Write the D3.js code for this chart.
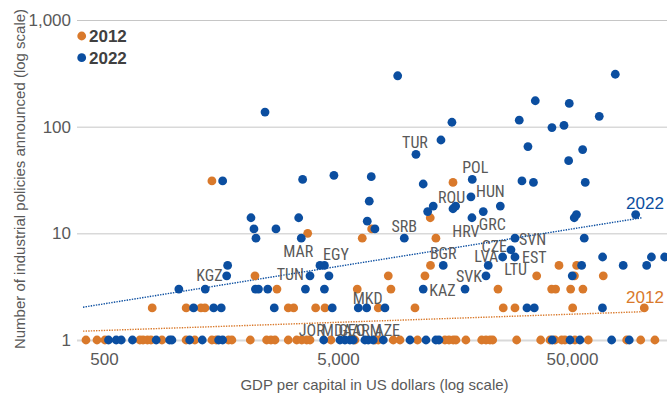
<!DOCTYPE html>
<html>
<head>
<meta charset="utf-8">
<script src="https://cdn.jsdelivr.net/npm/d3@7"></script>
<style>
  html, body { margin: 0; padding: 0; background: #fff; }
  svg { display: block; }
</style>
</head>
<body>
<svg id="chart" width="667" height="394"></svg>
<script>
// GDP per capita (US$) and number of industrial policies announced, per country
const series2012 = [
  [419,1],[467,1],[505,1],[712,1],[735,1],[767,1],[794,1],[885,1],[1122,1],[1223,1],
  [1447,1],[1510,1],[1703,1],[1761,1],[2111,1],[2478,1],[2586,1],[2691,1],[3067,1],[3332,1],
  [3502,1],[3676,1],[3798,1],[4667,1],[5910,1],[7195,1],[7434,1],[8615,1],[9208,1],[10940,1],
  [14330,1],[14910,1],[15550,1],[15970,1],[17610,1],[20570,1],[21460,1],[22320,1],[22920,1],[29020,1],
  [36760,1],[40280,1],[42300,1],[45200,1],[46670,1],[51500,1],[58700,1],[85670,1],[98350,1],[113100,1],
  [804,2],[1123,2],[1299,2],[1351,2],[3067,2],[3234,2],[4015,2],[4400,2],[7434,2],[10670,2],
  [25430,2],[28540,2],[50350,2],[101860,2],
  [2744,3],[6046,3],[8424,3],[24150,3],[40950,3],[42580,3],[49370,3],[55700,3],
  [2210,4],[8205,4],[11770,4],[35340,4],[51250,4],[68050,4],
  [12430,5],[44010,5],[52350,5],
  [6352,9],[13110,9],[3713,10],[6968,11],[12400,14],[15510,30],[1447,31]
];

const series2022 = [
  [523,1],[564,1],[593,1],[662,1],[836,1],[954,1],[976,1],[1162,1],[1316,1],[1546,1],
  [1608,1],[4346,1],[5100,1],[5355,1],[5625,1],[5815,1],[6520,1],[6740,1],[7075,1],[7812,1],
  [10160,1],[11890,1],[13110,1],[13510,1],[41190,1],[49050,1],[54100,1],[73900,1],[87890,1],
  [1208,2],[1472,2],[1586,2],[2672,2],[4728,2],[6107,2],[6635,2],[7940,2],[32120,2],[34520,2],[67500,2],
  [1045,3],[1355,3],[2220,3],[2288,3],[2506,3],[3631,3],[4377,3],[11570,3],[17460,3],
  [1673,4],[3798,4],[4577,4],[21460,4],[50150,4],
  [1689,5],[4190,5],[4377,5],[14090,5],[21940,5],[55000,5],[82800,5],[104300,5],
  [25280,6],[28540,6],[67600,6],[109300,6],[124500,6],
  [27440,7],
  [2232,9],[3486,9],[9605,9],[28540,9],[56430,9],
  [2188,11],[2717,11],[7195,11],
  [6672,13],
  [2125,14],[3398,14],[18690,14],[51150,14],
  [52270,15],[93600,15],
  [12090,16],[20890,16],
  [15510,17],
  [12770,18],[15920,18],[24710,18],
  [6805,20],[18510,22],[11570,29],
  [34230,30],[57000,30],
  [1608,31],[30570,31],
  [3533,32],[18750,32],
  [6940,34],[4806,35],[48400,48],[10775,55],[55560,61],[32430,65],[13780,75],
  [41070,98],[46230,103],[15350,110],[29770,115],[65420,125],[2440,137],
  [48700,165],[34860,175],[9000,300],[76600,310]
];

// Log-log trend lines (end points of each fitted line)
const trend2012 = [[407, 1.21], [99600, 1.84]];
const trend2022 = [[407, 2.03], [99600, 14.0]];

// Labelled countries (2022 values)
const countryLabels = [
  ["TUR",10775,55],["POL",18750,32],["HUN",18510,22],["ROU",15920,18],["HRV",18690,14],
  ["GRC",20890,16],["SRB",9605,9],["CZE",27440,7],["SVN",28540,9],["LVA",21940,5],
  ["EST",28540,6],["LTU",25280,6],["BGR",14090,5],["KAZ",11570,3],["SVK",21460,4],
  ["MKD",6635,2],["KGZ",1673,4],["MAR",3486,9],["EGY",4190,5],["TUN",3798,4],
  ["JOR",4346,1],["MDA",5100,1],["GEO",5625,1],["ARM",6520,1],["AZE",7075,1]
];

const xTicks = [500, 5000, 50000];
const yTicks = [1, 10, 100, 1000];
const years = ["2012", "2022"];

// Label placement: [text-anchor, dx, dy] relative to the labelled point
const labelPlacement = {
  TUR:["middle",-1,-6], POL:["middle",3,-6], HUN:["start",5,0], ROU:["middle",-4,-3],
  HRV:["middle",-6,19], GRC:["middle",9,18], SRB:["middle",0,-6], CZE:["end",-4,2],
  SVN:["start",4,7], LVA:["middle",-2,-3], EST:["start",7,6], LTU:["middle",13,18],
  BGR:["middle",0,-6], KAZ:["start",6,7], SVK:["end",-4,6], MKD:["middle",1,-4],
  KGZ:["end",-4,5], MAR:["middle",-3,19], EGY:["start",3,-5], TUN:["end",-6,4],
  JOR:["end",1,-4], MDA:["middle",-3,-4], GEO:["middle",2,-4], ARM:["middle",2,-4], AZE:["middle",14,-4]
};

const colors = { "2012": "#D9792B", "2022": "#0B4EA0" };
const textGray = "#595959";
const sans = "'Liberation Sans', Arial, sans-serif";
const narrow = "'Liberation Sans Narrow', 'Arial Narrow', 'Roboto Condensed', sans-serif";

const svg = d3.select("#chart");
const plotLeft = 77, plotRight = 667, plotTop = 20, plotBottom = 340;

const x = d3.scaleLog().domain([383.6, 127400]).range([plotLeft, plotRight]);
const y = d3.scaleLog().domain([1, 1000]).range([plotBottom, plotTop]);

// Horizontal gridlines + y tick labels
const yAxis = d3.axisLeft(y)
  .tickValues(yTicks)
  .tickSize(-(plotRight - plotLeft))
  .tickPadding(6)
  .tickFormat(d3.format(","));
const gy = svg.append("g").attr("transform", `translate(${plotLeft},0)`).call(yAxis);
gy.select(".domain").remove();
gy.selectAll(".tick line")
  .attr("stroke", d => d === 1 ? "#d9d9d9" : "#c6c6c6")
  .attr("stroke-width", d => d === 1 ? 2 : 1);
gy.selectAll(".tick text")
  .attr("fill", textGray)
  .style("font-family", sans)
  .style("font-size", "17px");

// X ticks and labels
const xAxis = d3.axisBottom(x)
  .tickValues(xTicks)
  .tickSize(4)
  .tickPadding(9)
  .tickFormat(d3.format(","));
const gx = svg.append("g").attr("transform", `translate(0,${plotBottom})`).call(xAxis);
gx.select(".domain").remove();
gx.selectAll(".tick line").attr("stroke", "#bfbfbf");
gx.selectAll(".tick text")
  .attr("fill", textGray)
  .style("font-family", sans)
  .style("font-size", "17px");

// Trend lines
const line = d3.line().x(d => x(d[0])).y(d => y(d[1]));
[["2012", trend2012], ["2022", trend2022]].forEach(([yr, t]) => {
  svg.append("path")
    .attr("d", line(t))
    .attr("fill", "none")
    .attr("stroke", colors[yr])
    .attr("stroke-width", 1.4)
    .attr("stroke-dasharray", "1.4,1.2");
  const end = t[t.length - 1];
  svg.append("text")
    .attr("x", x(end[0]) + 3)
    .attr("y", y(end[1]) - 9)
    .attr("text-anchor", "middle")
    .attr("fill", colors[yr])
    .style("font-family", sans)
    .style("font-size", "17px")
    .text(yr);
});

// Points: 2012 first, 2022 drawn on top
const plot = svg.append("g");
plot.selectAll("circle.s2012").data(series2012).join("circle")
  .attr("class", "s2012")
  .attr("cx", d => x(d[0])).attr("cy", d => y(d[1])).attr("r", 4.4)
  .attr("fill", colors["2012"]);
plot.selectAll("circle.s2022").data(series2022).join("circle")
  .attr("class", "s2022")
  .attr("cx", d => x(d[0])).attr("cy", d => y(d[1])).attr("r", 4.4)
  .attr("fill", colors["2022"]);

// Country labels
svg.append("g").selectAll("text").data(countryLabels).join("text")
  .attr("x", d => x(d[1]) + labelPlacement[d[0]][1])
  .attr("y", d => y(d[2]) + labelPlacement[d[0]][2])
  .attr("text-anchor", d => labelPlacement[d[0]][0])
  .attr("fill", textGray)
  .style("font-family", narrow)
  .style("font-size", "16px")
  .text(d => d[0]);

// Legend
const legend = svg.append("g");
years.forEach((yr, i) => {
  legend.append("circle").attr("cx", 81.7).attr("cy", 36 + i * 21.7).attr("r", 4.4).attr("fill", colors[yr]);
  legend.append("text")
    .attr("x", 89).attr("y", 42 + i * 21.7)
    .attr("fill", "#404040")
    .style("font-family", sans)
    .style("font-size", "17px")
    .style("font-weight", "bold")
    .text(yr);
});

// Axis titles
svg.append("text")
  .attr("x", 374.5).attr("y", 390)
  .attr("text-anchor", "middle")
  .attr("fill", textGray)
  .style("font-family", sans)
  .style("font-size", "15px")
  .text("GDP per capital in US dollars (log scale)");
svg.append("text")
  .attr("transform", "translate(25,179) rotate(-90)")
  .attr("text-anchor", "middle")
  .attr("fill", textGray)
  .style("font-family", sans)
  .style("font-size", "15px")
  .text("Number of industrial policies announced (log scale)");
</script>
</body>
</html>
